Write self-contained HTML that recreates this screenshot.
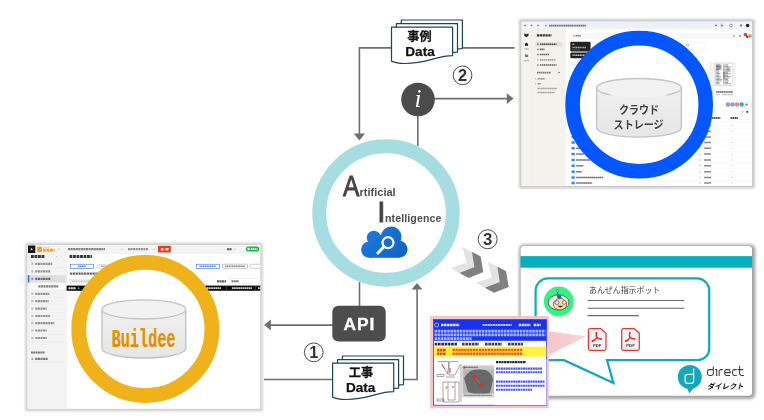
<!DOCTYPE html>
<html><head><meta charset="utf-8"><title>AI integration diagram</title>
<style>
html,body{margin:0;padding:0;background:#fff;}
body{width:764px;height:420px;overflow:hidden;font-family:"Liberation Sans",sans-serif;}
svg{display:block;will-change:transform;}
svg text{font-family:"Liberation Sans",sans-serif;}
svg text.cjk{font-family:"Liberation Sans","Noto Sans CJK JP",sans-serif;}
.serif{font-family:"Liberation Serif",serif;}
.mono{font-family:"Liberation Mono",monospace;}
svg text.mono{font-family:"Liberation Mono",monospace;}
</style></head><body>
<svg width="764" height="420" viewBox="0 0 764 420">
<defs>
<filter id="sh" x="-10%" y="-10%" width="120%" height="120%"><feGaussianBlur stdDeviation="1.4"/></filter>
<filter id="sh2" x="-10%" y="-10%" width="120%" height="120%"><feGaussianBlur stdDeviation="1"/></filter>
<filter id="soft" x="-5%" y="-5%" width="110%" height="110%"><feGaussianBlur stdDeviation="0.45"/></filter>
<linearGradient id="cyl" x1="0" y1="0" x2="0" y2="1"><stop offset="0" stop-color="#efefef"/><stop offset="1" stop-color="#e6e6e6"/></linearGradient>
<linearGradient id="fade" gradientUnits="userSpaceOnUse" x1="596.6" y1="0" x2="681.4" y2="0"><stop offset="0" stop-color="#c4c4c4"/><stop offset="0.13" stop-color="#c4c4c4"/><stop offset="0.2" stop-color="#c4c4c4" stop-opacity="0"/><stop offset="0.8" stop-color="#c4c4c4" stop-opacity="0"/><stop offset="0.87" stop-color="#c4c4c4"/><stop offset="1" stop-color="#c4c4c4"/></linearGradient>
<linearGradient id="pinkfade" gradientUnits="userSpaceOnUse" x1="548" y1="0" x2="587" y2="0"><stop offset="0" stop-color="#f4c5c7"/><stop offset="1" stop-color="#f8d6d8"/></linearGradient>
<linearGradient id="bld" x1="0" y1="0" x2="0" y2="1"><stop offset="0" stop-color="#e59a18"/><stop offset="1" stop-color="#d38612"/></linearGradient>
<linearGradient id="cloud" gradientUnits="userSpaceOnUse" x1="365" y1="228" x2="400" y2="260"><stop offset="0" stop-color="#1d7be0"/><stop offset="1" stop-color="#0f63c4"/></linearGradient>
<clipPath id="clipL"><rect x="27.5" y="245" width="232.8" height="163.8"/></clipPath>
<clipPath id="clipR"><rect x="521.5" y="21.7" width="230.5" height="164.1"/></clipPath>
</defs>
<rect width="764" height="420" fill="#fff"/>

<g id="connectors" fill="none" stroke="#6f6f6f" stroke-width="1.6">
<path d="M391.5 47.9H359.4V135"/>
<path d="M462.6 47.9H514.6"/>
<path d="M434 98.6H508"/>
<path d="M417.8 115V146"/>
<path d="M359.5 282V306"/>
<path d="M333 325.1H270"/>
<path d="M264 379.5H333"/>
<path d="M403.5 379.5H417.1V289"/>
</g>
<g id="arrowheads" fill="#6f6f6f">
<path d="M353.8 133.5H365L359.4 140.4Z"/>
<path d="M506.8 93.2V104L513.5 98.6Z"/>
<path d="M270.9 319.6V330.6L264.2 325.1Z"/>
<path d="M411.6 289.6H422.4L417 283Z"/>
</g>
<g id="doc-jirei" role="img" aria-label="事例 Data"><path d="M401.3 20.0H462.4V48.6C446.4 48.6 436.4 56.6 414.3 56.4Q406.3 56.2 401.3 54.0Z" fill="#fff" stroke="#1d4456" stroke-width="1.2" stroke-linejoin="round"/><path d="M396.4 23.6H457.5V52.2C441.5 52.2 431.5 60.2 409.4 60.0Q401.4 59.8 396.4 57.5Z" fill="#fff" stroke="#1d4456" stroke-width="1.2" stroke-linejoin="round"/><path d="M391.5 27.1H452.6V55.7C436.6 55.7 426.6 63.7 404.5 63.5Q396.5 63.3 391.5 61.1Z" fill="#fff" stroke="#1d4456" stroke-width="1.2" stroke-linejoin="round"/>
<text class="cjk" x="419.5" y="40.6" font-size="12" font-weight="bold" text-anchor="middle" textLength="24.3" lengthAdjust="spacingAndGlyphs" fill="#111" stroke="#111" stroke-width="0.25">事例</text>
<text x="420" y="55.6" font-size="12.9" font-weight="bold" text-anchor="middle" textLength="29.4" lengthAdjust="spacingAndGlyphs" fill="#111" stroke="#111" stroke-width="0.25">Data</text></g>
<g id="doc-kouji" role="img" aria-label="工事 Data"><path d="M342.4 356.0H403.5V384.6C387.5 384.6 377.5 392.6 355.4 392.4Q347.4 392.2 342.4 390.0Z" fill="#fff" stroke="#1d4456" stroke-width="1.2" stroke-linejoin="round"/><path d="M337.5 359.6H398.6V388.2C382.6 388.2 372.6 396.2 350.5 395.9Q342.5 395.8 337.5 393.6Z" fill="#fff" stroke="#1d4456" stroke-width="1.2" stroke-linejoin="round"/><path d="M332.6 363.1H393.7V391.7C377.7 391.7 367.7 399.7 345.6 399.5Q337.6 399.3 332.6 397.1Z" fill="#fff" stroke="#1d4456" stroke-width="1.2" stroke-linejoin="round"/>
<text class="cjk" x="361" y="376.8" font-size="12" font-weight="bold" text-anchor="middle" textLength="24.4" lengthAdjust="spacingAndGlyphs" fill="#111" stroke="#111" stroke-width="0.25">工事</text>
<text x="360.7" y="391.6" font-size="12.9" font-weight="bold" text-anchor="middle" textLength="29.4" lengthAdjust="spacingAndGlyphs" fill="#111" stroke="#111" stroke-width="0.25">Data</text></g>
<circle cx="313.75" cy="352.35" r="9.40" fill="#fff" stroke="#383838" stroke-width="0.9"/><text x="313.75" y="358.30" font-size="16.3" font-weight="bold" text-anchor="middle" fill="#333">1</text>
<circle cx="462.55" cy="75.35" r="9.35" fill="#fff" stroke="#383838" stroke-width="0.9"/><text x="462.55" y="80.80" font-size="16.3" font-weight="bold" text-anchor="middle" fill="#333">2</text>
<circle cx="487.65" cy="239.25" r="9.50" fill="#fff" stroke="#383838" stroke-width="0.9"/><text x="487.65" y="245.10" font-size="16.8" font-weight="bold" text-anchor="middle" fill="#333">3</text>
<g id="info"><circle cx="418" cy="99.5" r="16.8" fill="#4b4b4b"/>
<text class="serif" x="417.9" y="106.5" font-size="25" font-style="italic" text-anchor="middle" fill="#fff">i</text></g>
<g id="ai"><circle cx="386" cy="213" r="66.75" fill="#fff" stroke="#a6dde0" stroke-width="13.9"/>
<text transform="translate(343,195.6) scale(0.83,1)" font-size="29.6" fill="#454545" stroke="#454545" stroke-width="0.9">A</text>
<text x="359.6" y="195.6" font-size="11" font-weight="bold" fill="#4d4d4d">rtificial</text>
<text x="377.3" y="221.5" font-size="29.6" fill="#454545" stroke="#454545" stroke-width="0.9">I</text>
<text x="385" y="221.5" font-size="10.6" font-weight="bold" fill="#4d4d4d" textLength="56.4" lengthAdjust="spacing">ntelligence</text>
<g fill="url(#cloud)"><circle cx="369.3" cy="249.6" r="8.2"/><circle cx="399" cy="249.3" r="8.5"/><circle cx="373.8" cy="237.8" r="7.1"/><circle cx="381" cy="241" r="6"/><circle cx="391.2" cy="236.8" r="10.3"/><rect x="369" y="239" width="30" height="18.8"/></g>
<circle cx="388" cy="242.6" r="5.5" fill="none" stroke="#fff" stroke-width="2.2"/><path d="M383.8 247L377.9 253" stroke="#fff" stroke-width="3" stroke-linecap="round"/></g>
<g id="api"><rect x="332.3" y="305.7" width="53.4" height="35.7" rx="6" fill="#4d4d4d"/>
<text x="359" y="330" font-size="17.4" font-weight="bold" text-anchor="middle" fill="#fff" textLength="30.8" lengthAdjust="spacing" stroke="#fff" stroke-width="0.3">API</text></g>
<g id="chevrons"><polygon points="462.4,246.9 471.9,251.7 474.3,267.1 459.3,272.9 450.7,267.9 466.4,262.6" fill="#e3e3e3"/><polygon points="471.9,251.7 480.7,256.4 483.3,272.1 468.6,277.9 459.3,272.9 474.3,267.1" fill="#808080"/><polygon points="487.8,261.7 497.3,266.5 499.7,281.9 484.7,287.7 476.1,282.7 491.8,277.4" fill="#e3e3e3"/><polygon points="497.3,266.5 506.1,271.2 508.7,286.9 494.0,292.7 484.7,287.7 499.7,281.9" fill="#808080"/></g>
<g id="buildee-shot" role="img" aria-label="Buildee">
<rect x="25.1" y="242.7" width="237.7" height="168.6" rx="1.5" fill="#000" opacity="0.18" filter="url(#sh2)"/>
<rect x="27.50" y="245.00" width="232.80" height="163.80" fill="#fff" />
<g clip-path="url(#clipL)" filter="url(#soft)">
<rect x="27.50" y="245.00" width="234.00" height="8.30" fill="#f4f4f4" />
<rect x="27.50" y="253.20" width="234.00" height="0.40" fill="#e2e2e2" />
<rect x="27.50" y="253.40" width="38.90" height="155.10" fill="#f3f3f3" />
<rect x="28.00" y="245.50" width="7.30" height="7.50" fill="#161616" />
<path d="M30.8 247.8L33 249.2L30.8 250.6Z" fill="#ddd"/>
<rect x="37.20" y="246.80" width="4.80" height="5.20" fill="#f0a01e" rx="0.8"/>
<path d="M43.00 250.30H54.50" stroke="#f0a01e" stroke-width="3.00" stroke-dasharray="2.85 0.66" opacity="0.95" fill="none"/>
<path d="M43.00 247.60H50.00" stroke="#f0a01e" stroke-width="0.80" stroke-dasharray="1.00 0.30" opacity="0.60" fill="none"/>
<path d="M58.00 249.30H60.00" stroke="#bbb" stroke-width="1.20" stroke-dasharray="1.14 0.30" opacity="0.80" fill="none"/>
<path d="M31.00 256.50H45.00" stroke="#222" stroke-width="3.00" stroke-dasharray="2.85 0.66" opacity="0.90" fill="none"/>
<rect x="56.00" y="255.90" width="1.00" height="1.20" rx="0.4" fill="#bbb" opacity="0.80"/>
<rect x="31.30" y="262.80" width="2.00" height="2.20" rx="0.4" fill="#999" opacity="0.60"/>
<path d="M35.30 263.90H52.30" stroke="#666" stroke-width="2.20" stroke-dasharray="2.09 0.48" opacity="0.68" fill="none"/>
<rect x="27.50" y="267.50" width="38.90" height="0.30" fill="#e6e6e6" />
<rect x="31.30" y="270.20" width="2.00" height="2.20" rx="0.4" fill="#999" opacity="0.60"/>
<path d="M35.30 271.30H50.80" stroke="#666" stroke-width="2.20" stroke-dasharray="2.09 0.48" opacity="0.68" fill="none"/>
<rect x="27.50" y="274.90" width="38.90" height="0.30" fill="#e6e6e6" />
<rect x="27.50" y="275.20" width="38.90" height="7.50" fill="#dedede" />
<rect x="27.50" y="275.20" width="1.80" height="7.50" fill="#2f6fe0" />
<rect x="31.30" y="277.70" width="2.00" height="2.20" rx="0.4" fill="#2f6fe0" opacity="0.60"/>
<path d="M35.30 278.80H50.80" stroke="#333" stroke-width="2.20" stroke-dasharray="2.09 0.48" opacity="0.68" fill="none"/>
<rect x="27.50" y="282.40" width="38.90" height="0.30" fill="#e6e6e6" />
<rect x="29.00" y="282.90" width="37.40" height="7.10" fill="#fafafa" />
<path d="M38.30 286.30H58.30" stroke="#555" stroke-width="2.20" stroke-dasharray="2.09 0.48" opacity="0.75" fill="none"/>
<rect x="27.50" y="289.90" width="38.90" height="0.30" fill="#e6e6e6" />
<rect x="31.30" y="292.70" width="2.00" height="2.20" rx="0.4" fill="#999" opacity="0.60"/>
<path d="M35.30 293.80H49.30" stroke="#666" stroke-width="2.20" stroke-dasharray="2.09 0.48" opacity="0.68" fill="none"/>
<rect x="27.50" y="297.40" width="38.90" height="0.30" fill="#e6e6e6" />
<rect x="31.30" y="300.10" width="2.00" height="2.20" rx="0.4" fill="#999" opacity="0.60"/>
<path d="M35.30 301.20H48.80" stroke="#666" stroke-width="2.20" stroke-dasharray="2.09 0.48" opacity="0.68" fill="none"/>
<rect x="27.50" y="304.80" width="38.90" height="0.30" fill="#e6e6e6" />
<rect x="31.30" y="307.50" width="2.00" height="2.20" rx="0.4" fill="#999" opacity="0.60"/>
<path d="M35.30 308.60H46.80" stroke="#666" stroke-width="2.20" stroke-dasharray="2.09 0.48" opacity="0.68" fill="none"/>
<rect x="27.50" y="312.20" width="38.90" height="0.30" fill="#e6e6e6" />
<rect x="31.30" y="314.90" width="2.00" height="2.20" rx="0.4" fill="#999" opacity="0.60"/>
<path d="M35.30 316.00H49.80" stroke="#666" stroke-width="2.20" stroke-dasharray="2.09 0.48" opacity="0.68" fill="none"/>
<rect x="27.50" y="319.60" width="38.90" height="0.30" fill="#e6e6e6" />
<rect x="31.30" y="322.10" width="2.00" height="2.20" rx="0.4" fill="#999" opacity="0.60"/>
<path d="M35.30 323.20H54.30" stroke="#666" stroke-width="2.20" stroke-dasharray="2.09 0.48" opacity="0.68" fill="none"/>
<rect x="27.50" y="326.80" width="38.90" height="0.30" fill="#e6e6e6" />
<rect x="31.30" y="329.40" width="2.00" height="2.20" rx="0.4" fill="#999" opacity="0.60"/>
<path d="M35.30 330.50H46.80" stroke="#666" stroke-width="2.20" stroke-dasharray="2.09 0.48" opacity="0.68" fill="none"/>
<rect x="27.50" y="334.10" width="38.90" height="0.30" fill="#e6e6e6" />
<rect x="31.30" y="336.90" width="2.00" height="2.20" rx="0.4" fill="#999" opacity="0.60"/>
<path d="M35.30 338.00H46.80" stroke="#666" stroke-width="2.20" stroke-dasharray="2.09 0.48" opacity="0.68" fill="none"/>
<rect x="27.50" y="341.60" width="38.90" height="0.30" fill="#e6e6e6" />
<path d="M31.00 352.50H45.00" stroke="#555" stroke-width="2.00" stroke-dasharray="1.90 0.44" opacity="0.80" fill="none"/>
<rect x="31.30" y="357.70" width="2.00" height="2.20" rx="0.4" fill="#8a8a8a" opacity="0.70"/>
<path d="M35.30 358.80H48.00" stroke="#5a5a5a" stroke-width="2.20" stroke-dasharray="2.09 0.48" opacity="0.80" fill="none"/>
<rect x="27.50" y="362.60" width="38.90" height="0.30" fill="#e6e6e6" />
<rect x="66.30" y="253.40" width="0.30" height="155.10" fill="#e4e4e4" />
<path d="M68.00 249.20H105.00" stroke="#444" stroke-width="2.20" stroke-dasharray="2.09 0.48" opacity="0.65" fill="none"/>
<path d="M121.00 249.30H123.00" stroke="#bbb" stroke-width="1.20" stroke-dasharray="1.14 0.30" opacity="0.80" fill="none"/>
<path d="M128.00 249.20H148.00" stroke="#555" stroke-width="2.20" stroke-dasharray="2.09 0.48" opacity="0.60" fill="none"/>
<path d="M153.00 249.30H155.00" stroke="#bbb" stroke-width="1.20" stroke-dasharray="1.14 0.30" opacity="0.80" fill="none"/>
<rect x="158.00" y="245.80" width="12.80" height="6.70" fill="#e2401f" />
<circle cx="162.2" cy="249.2" r="1.5" fill="#fff" opacity="0.9"/>
<rect x="165.50" y="248.00" width="3.00" height="2.40" rx="0.4" fill="#fff" opacity="0.85"/>
<path d="M227.00 249.20H232.00" stroke="#333" stroke-width="2.00" stroke-dasharray="1.90 0.44" opacity="0.85" fill="none"/>
<path d="M234.00 249.30H236.50" stroke="#ccc" stroke-width="1.20" stroke-dasharray="1.14 0.30" opacity="0.80" fill="none"/>
<rect x="240.30" y="247.00" width="3.70" height="4.60" fill="#fff" stroke="#ddd" stroke-width="0.3"/>
<rect x="245.80" y="246.50" width="13.50" height="5.10" fill="#25b24a" rx="2.5"/>
<circle cx="248.6" cy="249.05" r="1.3" fill="#fff" opacity="0.9"/>
<path d="M251.00 249.10H257.50" stroke="#fff" stroke-width="1.60" stroke-dasharray="1.52 0.35" opacity="0.85" fill="none"/>
<path d="M69.50 256.50H92.00" stroke="#222" stroke-width="3.00" stroke-dasharray="2.85 0.66" opacity="0.90" fill="none"/>
<rect x="70.50" y="264.20" width="23.00" height="4.10" fill="#fff" stroke="#2f6fe0" stroke-width="0.6"/>
<path d="M78.00 266.30H86.00" stroke="#2f6fe0" stroke-width="1.60" stroke-dasharray="1.52 0.35" opacity="0.85" fill="none"/>
<rect x="97.50" y="264.20" width="18.50" height="4.10" fill="#eee" stroke="#ccc" stroke-width="0.4"/>
<path d="M101.00 266.30H112.00" stroke="#999" stroke-width="1.50" stroke-dasharray="1.42 0.33" opacity="0.70" fill="none"/>
<path d="M70.00 273.60H110.00" stroke="#444" stroke-width="2.40" stroke-dasharray="2.28 0.53" opacity="0.80" fill="none"/>
<rect x="70.00" y="279.00" width="55.00" height="4.60" fill="#f1f1f1" stroke="#ddd" stroke-width="0.3"/>
<path d="M72.00 281.30H92.00" stroke="#bbb" stroke-width="1.50" stroke-dasharray="1.42 0.33" opacity="0.70" fill="none"/>
<rect x="196.30" y="264.20" width="23.00" height="4.10" fill="#fff" stroke="#2f6fe0" stroke-width="0.6"/>
<path d="M199.50 266.30H216.00" stroke="#2f6fe0" stroke-width="1.50" stroke-dasharray="1.42 0.33" opacity="0.80" fill="none"/>
<rect x="222.50" y="264.20" width="25.00" height="4.10" fill="#fff" stroke="#888" stroke-width="0.5" rx="0.8"/>
<path d="M225.00 266.30H245.00" stroke="#666" stroke-width="1.50" stroke-dasharray="1.42 0.33" opacity="0.75" fill="none"/>
<rect x="250.00" y="264.20" width="13.00" height="4.10" fill="#fff" stroke="#999" stroke-width="0.5" rx="0.8"/>
<path d="M217.00 281.30H226.00" stroke="#333" stroke-width="2.20" stroke-dasharray="2.09 0.48" opacity="0.80" fill="none"/>
<rect x="229.50" y="278.80" width="33.50" height="5.00" fill="#fff" stroke="#ddd" stroke-width="0.4"/>
<path d="M231.50 281.30H239.00" stroke="#444" stroke-width="2.00" stroke-dasharray="1.90 0.44" opacity="0.75" fill="none"/>
<rect x="66.60" y="285.60" width="194.90" height="5.20" fill="#101010" />
<path d="M68.50 288.20H76.00" stroke="#fff" stroke-width="2.00" stroke-dasharray="1.90 0.44" opacity="0.85" fill="none"/>
<rect x="78.00" y="287.60" width="1.50" height="1.20" rx="0.4" fill="#fff" opacity="0.70"/>
<path d="M207.00 288.20H221.00" stroke="#fff" stroke-width="1.80" stroke-dasharray="1.71 0.40" opacity="0.80" fill="none"/>
<rect x="226.40" y="285.60" width="0.40" height="5.20" fill="#777" />
<path d="M232.00 288.20H252.00" stroke="#fff" stroke-width="1.80" stroke-dasharray="1.71 0.40" opacity="0.80" fill="none"/>
<rect x="255.40" y="285.60" width="0.40" height="5.20" fill="#777" />
<path d="M258.00 288.20H262.00" stroke="#fff" stroke-width="1.80" stroke-dasharray="1.71 0.40" opacity="0.80" fill="none"/>
</g>
<circle cx="145.3" cy="329" r="66.6" fill="#fff" stroke="#f0b21b" stroke-width="14.8"/>
<path d="M102 309.4V348.5A41.85 9.55 0 0 0 185.7 348.5V309.4" fill="url(#cyl)" stroke="#c4c4c4" stroke-width="1.4"/>
<ellipse cx="143.85" cy="309.4" rx="41.85" ry="9.55" fill="#f2f2f2" stroke="#c4c4c4" stroke-width="1.4"/>
<text class="mono" x="111.2" y="346.55" font-size="25" font-weight="bold" textLength="64" lengthAdjust="spacingAndGlyphs" fill="#f4c022">Buildee</text>
<text class="mono" x="111.7" y="347" font-size="25" font-weight="bold" textLength="64" lengthAdjust="spacingAndGlyphs" fill="url(#bld)">Buildee</text>
</g>
<g id="box-shot" role="img" aria-label="クラウドストレージ">
<rect x="518.9" y="19" width="236" height="169.4" rx="1.5" fill="#000" opacity="0.2" filter="url(#sh2)"/>
<rect x="521.50" y="21.70" width="230.50" height="164.10" fill="#fff" />
<g clip-path="url(#clipR)" filter="url(#soft)">
<rect x="521.50" y="21.00" width="231.00" height="8.00" fill="#f3f5f8" />
<rect x="521.50" y="28.80" width="231.00" height="0.40" fill="#e3e5e8" />
<rect x="524.10" y="24.80" width="1.80" height="1.40" rx="0.4" fill="#555" opacity="0.75"/>
<rect x="530.60" y="24.80" width="1.80" height="1.40" rx="0.4" fill="#555" opacity="0.75"/>
<rect x="537.10" y="24.80" width="1.80" height="1.40" rx="0.4" fill="#555" opacity="0.75"/>
<rect x="543.00" y="22.60" width="183.00" height="5.40" fill="#edf0f5" rx="2.7"/>
<rect x="545.30" y="24.70" width="1.40" height="1.60" rx="0.4" fill="#555" opacity="0.70"/>
<path d="M549.00 25.60H586.00" stroke="#444" stroke-width="1.60" stroke-dasharray="1.52 0.35" opacity="0.75" fill="none"/>
<rect x="715.00" y="24.70" width="2.00" height="1.60" rx="0.4" fill="#555" opacity="0.75"/>
<circle cx="721.8" cy="25.5" r="2.2" fill="#dfe3ea"/>
<rect x="721.00" y="24.75" width="1.60" height="1.50" rx="0.4" fill="#444" opacity="0.80"/>
<circle cx="731" cy="25.5" r="1.4" fill="none" stroke="#555" stroke-width="0.5"/>
<rect x="740.00" y="24.60" width="2.00" height="1.80" rx="0.4" fill="#444" opacity="0.75"/>
<circle cx="747.6" cy="25.5" r="1.8" fill="#222"/>
<rect x="521.50" y="29.20" width="9.90" height="157.10" fill="#f5f3ee" />
<rect x="531.40" y="29.20" width="33.90" height="157.10" fill="#f4f2ed" />
<rect x="531.30" y="29.20" width="0.30" height="157.10" fill="#e6e3dc" />
<rect x="565.20" y="29.20" width="0.30" height="157.10" fill="#e6e3dc" />
<path d="M524.3 33.3L526.4 34.6L528.5 33.3V35.8L526.4 37.2L524.3 35.8Z" fill="#222"/>
<path d="M524.9 45.8V43.9L526.5 42.6L528.1 43.9V45.8Z" fill="#222"/>
<path d="M524.50 49.00H528.60" stroke="#666" stroke-width="1.20" stroke-dasharray="1.14 0.30" opacity="0.70" fill="none"/>
<path d="M525 54.2H526.3L526.8 54.8H528.2V57H525Z" fill="#777"/>
<path d="M523.80 60.70H529.20" stroke="#888" stroke-width="1.20" stroke-dasharray="1.14 0.30" opacity="0.65" fill="none"/>
<path d="M537.00 35.40H551.50" stroke="#222" stroke-width="2.40" stroke-dasharray="2.28 0.53" opacity="0.90" fill="none"/>
<rect x="535.00" y="42.00" width="27.20" height="4.40" fill="#e4e1da" rx="1"/>
<rect x="537.20" y="43.45" width="1.40" height="1.60" rx="0.4" fill="#222" opacity="0.75"/>
<path d="M540.00 44.25H556.50" stroke="#222" stroke-width="1.70" stroke-dasharray="1.61 0.37" opacity="0.78" fill="none"/>
<rect x="537.20" y="48.50" width="1.40" height="1.60" rx="0.4" fill="#444" opacity="0.75"/>
<path d="M540.00 49.30H544.50" stroke="#444" stroke-width="1.70" stroke-dasharray="1.61 0.37" opacity="0.78" fill="none"/>
<rect x="537.20" y="53.70" width="1.40" height="1.60" rx="0.4" fill="#444" opacity="0.75"/>
<path d="M540.00 54.50H549.00" stroke="#444" stroke-width="1.70" stroke-dasharray="1.61 0.37" opacity="0.78" fill="none"/>
<rect x="537.20" y="59.00" width="1.40" height="1.60" rx="0.4" fill="#999" opacity="0.75"/>
<path d="M540.00 59.80H555.50" stroke="#999" stroke-width="1.70" stroke-dasharray="1.61 0.37" opacity="0.78" fill="none"/>
<rect x="537.20" y="64.20" width="1.40" height="1.60" rx="0.4" fill="#444" opacity="0.75"/>
<path d="M540.00 65.00H556.50" stroke="#444" stroke-width="1.70" stroke-dasharray="1.61 0.37" opacity="0.78" fill="none"/>
<path d="M537.00 72.60H551.00" stroke="#555" stroke-width="1.70" stroke-dasharray="1.61 0.37" opacity="0.75" fill="none"/>
<path d="M558.6 71.7L560 72.6L558.6 73.5Z" fill="#333"/>
<rect x="535.00" y="78.30" width="1.00" height="1.00" rx="0.4" fill="#777" opacity="0.70"/>
<path d="M537.50 78.80H545.00" stroke="#666" stroke-width="1.50" stroke-dasharray="1.42 0.33" opacity="0.70" fill="none"/>
<rect x="535.00" y="83.30" width="1.00" height="1.00" rx="0.4" fill="#777" opacity="0.70"/>
<path d="M537.50 83.80H541.00" stroke="#666" stroke-width="1.50" stroke-dasharray="1.42 0.33" opacity="0.70" fill="none"/>
<path d="M537.50 88.60H557.00" stroke="#777" stroke-width="1.50" stroke-dasharray="1.42 0.33" opacity="0.65" fill="none"/>
<path d="M537.50 92.40H555.00" stroke="#777" stroke-width="1.50" stroke-dasharray="1.42 0.33" opacity="0.65" fill="none"/>
<rect x="571.00" y="32.90" width="162.00" height="5.80" fill="#f8f8f7" rx="1"/>
<rect x="573.30" y="35.05" width="1.20" height="1.50" rx="0.4" fill="#666" opacity="0.70"/>
<path d="M575.50 35.80H581.00" stroke="#555" stroke-width="1.60" stroke-dasharray="1.52 0.35" opacity="0.75" fill="none"/>
<rect x="733.30" y="35.10" width="1.70" height="1.80" rx="0.4" fill="#888" opacity="0.70"/>
<rect x="739.00" y="35.10" width="2.00" height="1.80" rx="0.4" fill="#666" opacity="0.70"/>
<circle cx="745.4" cy="34.6" r="1.9" fill="#e8406a"/><circle cx="750" cy="36" r="1.8" fill="#f08a20"/><circle cx="747.2" cy="36.8" r="1.2" fill="#7a2a3a"/>
<rect x="570.30" y="41.70" width="20.30" height="9.80" fill="#242424" rx="1.3"/>
<rect x="572.50" y="43.50" width="1.80" height="1.60" rx="0.4" fill="#ddd" opacity="0.80"/>
<path d="M572.50 47.60H586.00" stroke="#ccc" stroke-width="1.50" stroke-dasharray="1.42 0.33" opacity="0.75" fill="none"/>
<path d="M572.50 49.90H580.00" stroke="#aaa" stroke-width="0.80" stroke-dasharray="1.00 0.30" opacity="0.50" fill="none"/>
<rect x="570.30" y="52.40" width="18.20" height="5.80" fill="#242424" rx="1.3"/>
<path d="M572.50 55.20H585.00" stroke="#ddd" stroke-width="1.50" stroke-dasharray="1.42 0.33" opacity="0.80" fill="none"/>
<rect x="571.00" y="61.50" width="29.00" height="4.50" fill="#f5f3ee" />
<rect x="683.00" y="42.00" width="21.30" height="10.00" fill="#fff" stroke="#e8e8e8" stroke-width="0.5" rx="1"/>
<circle cx="687.6" cy="45" r="1.1" fill="none" stroke="#666" stroke-width="0.4"/>
<rect x="709.00" y="61.80" width="26.70" height="25.40" fill="#f3f3f3" rx="1"/>
<rect x="714.30" y="63.70" width="17.90" height="21.50" fill="#fcfcfc" stroke="#c8c8c8" stroke-width="0.3"/>
<path d="M715.60 65.00H719.97" stroke="#222" stroke-width="0.90" stroke-dasharray="1.00 0.30" opacity="0.60" fill="none"/>
<path d="M723.20 65.00H728.23" stroke="#222" stroke-width="0.90" stroke-dasharray="1.00 0.30" opacity="0.60" fill="none"/>
<path d="M715.60 66.45H720.86" stroke="#222" stroke-width="0.90" stroke-dasharray="1.00 0.30" opacity="0.60" fill="none"/>
<path d="M723.20 66.45H727.95" stroke="#222" stroke-width="0.90" stroke-dasharray="1.00 0.30" opacity="0.60" fill="none"/>
<path d="M715.60 67.90H720.55" stroke="#222" stroke-width="0.90" stroke-dasharray="1.00 0.30" opacity="0.60" fill="none"/>
<path d="M723.20 67.90H728.98" stroke="#222" stroke-width="0.90" stroke-dasharray="1.00 0.30" opacity="0.60" fill="none"/>
<path d="M715.60 69.35H719.26" stroke="#222" stroke-width="0.90" stroke-dasharray="1.00 0.30" opacity="0.60" fill="none"/>
<path d="M723.20 69.35H729.48" stroke="#222" stroke-width="0.90" stroke-dasharray="1.00 0.30" opacity="0.60" fill="none"/>
<path d="M715.60 70.80H719.20" stroke="#222" stroke-width="0.90" stroke-dasharray="1.00 0.30" opacity="0.60" fill="none"/>
<path d="M723.20 70.80H729.22" stroke="#222" stroke-width="0.90" stroke-dasharray="1.00 0.30" opacity="0.60" fill="none"/>
<path d="M715.60 72.25H719.29" stroke="#222" stroke-width="0.90" stroke-dasharray="1.00 0.30" opacity="0.60" fill="none"/>
<path d="M723.20 72.25H728.02" stroke="#222" stroke-width="0.90" stroke-dasharray="1.00 0.30" opacity="0.60" fill="none"/>
<path d="M715.60 73.70H720.25" stroke="#222" stroke-width="0.90" stroke-dasharray="1.00 0.30" opacity="0.60" fill="none"/>
<path d="M723.20 73.70H730.59" stroke="#222" stroke-width="0.90" stroke-dasharray="1.00 0.30" opacity="0.60" fill="none"/>
<path d="M715.60 75.15H719.43" stroke="#222" stroke-width="0.90" stroke-dasharray="1.00 0.30" opacity="0.60" fill="none"/>
<path d="M723.20 75.15H728.48" stroke="#222" stroke-width="0.90" stroke-dasharray="1.00 0.30" opacity="0.60" fill="none"/>
<path d="M715.60 76.60H720.79" stroke="#222" stroke-width="0.90" stroke-dasharray="1.00 0.30" opacity="0.60" fill="none"/>
<path d="M723.20 76.60H731.02" stroke="#222" stroke-width="0.90" stroke-dasharray="1.00 0.30" opacity="0.60" fill="none"/>
<path d="M715.60 78.05H720.66" stroke="#222" stroke-width="0.90" stroke-dasharray="1.00 0.30" opacity="0.60" fill="none"/>
<path d="M723.20 78.05H729.09" stroke="#222" stroke-width="0.90" stroke-dasharray="1.00 0.30" opacity="0.60" fill="none"/>
<path d="M715.60 79.50H721.74" stroke="#222" stroke-width="0.90" stroke-dasharray="1.00 0.30" opacity="0.60" fill="none"/>
<path d="M723.20 79.50H727.86" stroke="#222" stroke-width="0.90" stroke-dasharray="1.00 0.30" opacity="0.60" fill="none"/>
<path d="M715.60 80.95H721.42" stroke="#222" stroke-width="0.90" stroke-dasharray="1.00 0.30" opacity="0.60" fill="none"/>
<path d="M723.20 80.95H728.71" stroke="#222" stroke-width="0.90" stroke-dasharray="1.00 0.30" opacity="0.60" fill="none"/>
<path d="M715.60 82.40H719.49" stroke="#222" stroke-width="0.90" stroke-dasharray="1.00 0.30" opacity="0.60" fill="none"/>
<path d="M723.20 82.40H728.11" stroke="#222" stroke-width="0.90" stroke-dasharray="1.00 0.30" opacity="0.60" fill="none"/>
<path d="M715.60 83.85H719.93" stroke="#222" stroke-width="0.90" stroke-dasharray="1.00 0.30" opacity="0.60" fill="none"/>
<path d="M723.20 83.85H730.56" stroke="#222" stroke-width="0.90" stroke-dasharray="1.00 0.30" opacity="0.60" fill="none"/>
<rect x="716.00" y="64.60" width="5.60" height="5.20" fill="#555" opacity="0.45"/>
<rect x="723.20" y="71.50" width="2.20" height="7.50" fill="#444" opacity="0.35"/>
<rect x="727.50" y="66.00" width="3.30" height="6.00" fill="#666" opacity="0.3"/>
<path d="M716.00 92.00H733.00" stroke="#333" stroke-width="1.60" stroke-dasharray="1.52 0.35" opacity="0.80" fill="none"/>
<path d="M716.00 94.70H720.50" stroke="#888" stroke-width="1.20" stroke-dasharray="1.14 0.30" opacity="0.60" fill="none"/>
<path d="M722.00 94.70H733.00" stroke="#888" stroke-width="1.20" stroke-dasharray="1.14 0.30" opacity="0.60" fill="none"/>
<circle cx="711.6" cy="93" r="1.2" fill="#4aa0f0" opacity="0.8"/>
<circle cx="728.0" cy="104.5" r="2.3" fill="#a293dc"/>
<circle cx="732.5" cy="104.5" r="2.3" fill="#8e9fe3"/>
<circle cx="737.0" cy="104.5" r="2.3" fill="#f1828d"/>
<circle cx="741.7" cy="104.5" r="2.3" fill="#2ab3c6"/>
<rect x="745.30" y="103.60" width="2.50" height="2.00" rx="0.4" fill="#555" opacity="0.70"/>
<rect x="741.60" y="111.00" width="1.80" height="1.60" rx="0.4" fill="#999" opacity="0.70"/>
<rect x="746.30" y="110.90" width="1.90" height="1.80" rx="0.4" fill="#222" opacity="0.85"/>
<path d="M711.70 118.00H720.50" stroke="#333" stroke-width="1.80" stroke-dasharray="1.71 0.40" opacity="0.80" fill="none"/>
<path d="M730.50 118.00H738.00" stroke="#333" stroke-width="1.80" stroke-dasharray="1.71 0.40" opacity="0.85" fill="none"/>
<rect x="565.50" y="121.80" width="187.00" height="0.30" fill="#dcdcdc" />
<circle cx="700" cy="125.50" r="0.9" fill="none" stroke="#aaa" stroke-width="0.3"/>
<path d="M704.30 125.50H711.00" stroke="#444" stroke-width="1.70" stroke-dasharray="1.61 0.37" opacity="0.78" fill="none"/>
<path d="M731.30 125.50H732.50" stroke="#555" stroke-width="0.60" stroke-dasharray="1.00 0.30" opacity="0.70" fill="none"/>
<rect x="565.50" y="128.30" width="187.00" height="0.25" fill="#e9e9e9" />
<rect x="571.50" y="124.15" width="3.30" height="2.70" fill="#3b84f2" rx="0.5"/>
<path d="M576.20 125.50H596.20" stroke="#333" stroke-width="1.70" stroke-dasharray="1.61 0.37" opacity="0.78" fill="none"/>
<circle cx="700" cy="131.25" r="0.9" fill="none" stroke="#aaa" stroke-width="0.3"/>
<path d="M704.30 131.25H711.00" stroke="#444" stroke-width="1.70" stroke-dasharray="1.61 0.37" opacity="0.78" fill="none"/>
<path d="M731.30 131.25H732.50" stroke="#555" stroke-width="0.60" stroke-dasharray="1.00 0.30" opacity="0.70" fill="none"/>
<rect x="565.50" y="134.05" width="187.00" height="0.25" fill="#e9e9e9" />
<rect x="571.50" y="129.90" width="3.30" height="2.70" fill="#3b84f2" rx="0.5"/>
<path d="M576.20 131.25H590.20" stroke="#333" stroke-width="1.70" stroke-dasharray="1.61 0.37" opacity="0.78" fill="none"/>
<circle cx="700" cy="137.00" r="0.9" fill="none" stroke="#aaa" stroke-width="0.3"/>
<path d="M704.30 137.00H711.00" stroke="#444" stroke-width="1.70" stroke-dasharray="1.61 0.37" opacity="0.78" fill="none"/>
<path d="M731.30 137.00H732.50" stroke="#555" stroke-width="0.60" stroke-dasharray="1.00 0.30" opacity="0.70" fill="none"/>
<rect x="565.50" y="139.80" width="187.00" height="0.25" fill="#e9e9e9" />
<rect x="571.50" y="135.65" width="3.30" height="2.70" fill="#3b84f2" rx="0.5"/>
<path d="M576.20 137.00H598.20" stroke="#333" stroke-width="1.70" stroke-dasharray="1.61 0.37" opacity="0.78" fill="none"/>
<circle cx="700" cy="142.50" r="0.9" fill="none" stroke="#aaa" stroke-width="0.3"/>
<path d="M704.30 142.50H711.00" stroke="#444" stroke-width="1.70" stroke-dasharray="1.61 0.37" opacity="0.78" fill="none"/>
<path d="M731.30 142.50H732.50" stroke="#555" stroke-width="0.60" stroke-dasharray="1.00 0.30" opacity="0.70" fill="none"/>
<rect x="565.50" y="145.30" width="187.00" height="0.25" fill="#e9e9e9" />
<rect x="571.50" y="141.15" width="3.30" height="2.70" fill="#3b84f2" rx="0.5"/>
<path d="M576.20 142.50H594.20" stroke="#333" stroke-width="1.70" stroke-dasharray="1.61 0.37" opacity="0.78" fill="none"/>
<circle cx="700" cy="148.25" r="0.9" fill="none" stroke="#aaa" stroke-width="0.3"/>
<path d="M704.30 148.25H711.00" stroke="#444" stroke-width="1.70" stroke-dasharray="1.61 0.37" opacity="0.78" fill="none"/>
<path d="M731.30 148.25H732.50" stroke="#555" stroke-width="0.60" stroke-dasharray="1.00 0.30" opacity="0.70" fill="none"/>
<rect x="565.50" y="151.05" width="187.00" height="0.25" fill="#e9e9e9" />
<rect x="571.50" y="146.90" width="3.30" height="2.70" fill="#3b84f2" rx="0.5"/>
<path d="M576.20 148.25H586.20" stroke="#333" stroke-width="1.70" stroke-dasharray="1.61 0.37" opacity="0.78" fill="none"/>
<circle cx="700" cy="154.00" r="0.9" fill="none" stroke="#aaa" stroke-width="0.3"/>
<path d="M704.30 154.00H711.00" stroke="#444" stroke-width="1.70" stroke-dasharray="1.61 0.37" opacity="0.78" fill="none"/>
<path d="M731.30 154.00H732.50" stroke="#555" stroke-width="0.60" stroke-dasharray="1.00 0.30" opacity="0.70" fill="none"/>
<rect x="565.50" y="156.80" width="187.00" height="0.25" fill="#e9e9e9" />
<rect x="571.50" y="152.65" width="3.30" height="2.70" fill="#3b84f2" rx="0.5"/>
<path d="M576.20 154.00H584.20" stroke="#333" stroke-width="1.70" stroke-dasharray="1.61 0.37" opacity="0.78" fill="none"/>
<circle cx="700" cy="160.00" r="0.9" fill="none" stroke="#aaa" stroke-width="0.3"/>
<path d="M704.30 160.00H711.00" stroke="#444" stroke-width="1.70" stroke-dasharray="1.61 0.37" opacity="0.78" fill="none"/>
<path d="M731.30 160.00H732.50" stroke="#555" stroke-width="0.60" stroke-dasharray="1.00 0.30" opacity="0.70" fill="none"/>
<rect x="565.50" y="162.80" width="187.00" height="0.25" fill="#e9e9e9" />
<rect x="571.50" y="158.65" width="3.30" height="2.70" fill="#3b84f2" rx="0.5"/>
<path d="M576.20 160.00H590.20" stroke="#333" stroke-width="1.70" stroke-dasharray="1.61 0.37" opacity="0.78" fill="none"/>
<circle cx="700" cy="165.75" r="0.9" fill="none" stroke="#aaa" stroke-width="0.3"/>
<path d="M704.30 165.75H711.00" stroke="#444" stroke-width="1.70" stroke-dasharray="1.61 0.37" opacity="0.78" fill="none"/>
<path d="M731.30 165.75H732.50" stroke="#555" stroke-width="0.60" stroke-dasharray="1.00 0.30" opacity="0.70" fill="none"/>
<rect x="565.50" y="168.55" width="187.00" height="0.25" fill="#e9e9e9" />
<rect x="571.50" y="164.40" width="3.30" height="2.70" fill="#3b84f2" rx="0.5"/>
<path d="M576.20 165.75H583.20" stroke="#333" stroke-width="1.70" stroke-dasharray="1.61 0.37" opacity="0.78" fill="none"/>
<circle cx="700" cy="171.75" r="0.9" fill="none" stroke="#aaa" stroke-width="0.3"/>
<path d="M704.30 171.75H711.00" stroke="#444" stroke-width="1.70" stroke-dasharray="1.61 0.37" opacity="0.78" fill="none"/>
<path d="M731.30 171.75H732.50" stroke="#555" stroke-width="0.60" stroke-dasharray="1.00 0.30" opacity="0.70" fill="none"/>
<rect x="565.50" y="174.55" width="187.00" height="0.25" fill="#e9e9e9" />
<rect x="571.50" y="170.40" width="3.30" height="2.70" fill="#3b84f2" rx="0.5"/>
<path d="M576.20 171.75H581.70" stroke="#333" stroke-width="1.70" stroke-dasharray="1.61 0.37" opacity="0.78" fill="none"/>
<circle cx="700" cy="177.50" r="0.9" fill="none" stroke="#aaa" stroke-width="0.3"/>
<path d="M704.30 177.50H711.00" stroke="#444" stroke-width="1.70" stroke-dasharray="1.61 0.37" opacity="0.78" fill="none"/>
<path d="M731.30 177.50H732.50" stroke="#555" stroke-width="0.60" stroke-dasharray="1.00 0.30" opacity="0.70" fill="none"/>
<rect x="565.50" y="180.30" width="187.00" height="0.25" fill="#e9e9e9" />
<rect x="571.50" y="176.15" width="3.30" height="2.70" fill="#3b84f2" rx="0.5"/>
<path d="M576.20 177.50H603.20" stroke="#333" stroke-width="1.70" stroke-dasharray="1.61 0.37" opacity="0.78" fill="none"/>
<circle cx="700" cy="183.00" r="0.9" fill="none" stroke="#aaa" stroke-width="0.3"/>
<path d="M704.30 183.00H711.00" stroke="#444" stroke-width="1.70" stroke-dasharray="1.61 0.37" opacity="0.78" fill="none"/>
<path d="M731.30 183.00H732.50" stroke="#555" stroke-width="0.60" stroke-dasharray="1.00 0.30" opacity="0.70" fill="none"/>
<rect x="565.50" y="185.80" width="187.00" height="0.25" fill="#e9e9e9" />
<rect x="571.50" y="181.65" width="3.30" height="2.70" fill="#3b84f2" rx="0.5"/>
<path d="M576.20 183.00H592.20" stroke="#333" stroke-width="1.70" stroke-dasharray="1.61 0.37" opacity="0.78" fill="none"/>
</g>
<circle cx="639.15" cy="104.7" r="66.55" fill="#fff" stroke="#0457fe" stroke-width="14.6"/>
<path d="M596.6 87.9V127.7A42.4 9.4 0 0 0 681.4 127.7V87.9" fill="url(#cyl)" stroke="#c4c4c4" stroke-width="1.4"/>
<ellipse cx="639" cy="87.9" rx="42.4" ry="9.4" fill="#f2f2f2"/>
<path d="M596.6 87.9A42.4 9.4 0 0 1 681.4 87.9" fill="none" stroke="#c4c4c4" stroke-width="1.4"/>
<path d="M596.6 87.9A42.4 9.4 0 0 0 681.4 87.9" fill="none" stroke="url(#fade)" stroke-width="1.4"/>
<text class="cjk" x="639" y="113.8" font-size="11" font-weight="bold" text-anchor="middle" textLength="40" lengthAdjust="spacingAndGlyphs" fill="#404040">クラウド</text>
<text class="cjk" x="638.6" y="129.3" font-size="11" font-weight="bold" text-anchor="middle" textLength="50" lengthAdjust="spacingAndGlyphs" fill="#404040">ストレージ</text>
</g>
<g id="direct-panel" role="img" aria-label="あんぜん指示ボット direct ダイレクト">
<rect x="519" y="244.4" width="236.3" height="154.6" rx="5" fill="#000" opacity="0.36" filter="url(#sh)"/>
<rect x="520.7" y="246" width="231.3" height="149.7" rx="3.5" fill="#fff"/>
<rect x="520.40" y="256.10" width="231.60" height="11.60" fill="#07aec0" />
<path d="M564 360.2H548.1A12.5 12.5 0 0 1 535.6 347.7V290.8A12.5 12.5 0 0 1 548.1 278.3H696.7A12.5 12.5 0 0 1 709.2 290.8V348.7A11.5 11.5 0 0 1 697.7 360.2H607L613.5 383.1Z" fill="#fff" stroke="#0ea9bb" stroke-width="2.2" stroke-linejoin="miter"/>
<circle cx="558.8" cy="301.5" r="14.9" fill="#34f480"/>
<path d="M557.9 295.2L557.6 291.6" stroke="#333" stroke-width="0.8"/><circle cx="557.6" cy="290.8" r="1.1" fill="#fff" stroke="#333" stroke-width="0.5"/>
<ellipse cx="558.5" cy="302.4" rx="10.4" ry="7.6" fill="#f4f4f4" stroke="#333" stroke-width="0.7"/>
<path d="M556.5 295.3L560.8 295.1L561.6 298.4L558 298.8Z" fill="#2a5fd0"/>
<ellipse cx="560" cy="304.2" rx="6.6" ry="5.8" fill="#f6e0a2" stroke="#333" stroke-width="0.6"/>
<circle cx="557" cy="302.5" r="2" fill="#fbf3d8" stroke="#333" stroke-width="0.6"/><circle cx="564.2" cy="302.5" r="1.9" fill="#fbf3d8" stroke="#333" stroke-width="0.6"/>
<path d="M557.6 305.8Q560.4 309 563.2 305.8Z" fill="#6a1a10"/>
<text class="cjk" x="589" y="293.4" font-size="8" textLength="71.2" lengthAdjust="spacingAndGlyphs" fill="#404040">あんぜん指示ボット</text>
<g stroke="#6a6a6a" stroke-width="1.1"><path d="M587.5 300.5H684.5M587.5 308.3H684.5M587.5 315.6H638.8"/></g>
<g transform="translate(588.0,328.2)"><path d="M2.2 0.3H12.6L18 5V20.4A1.8 1.8 0 0 1 16.2 22.2H2.2A1.8 1.8 0 0 1 0.4 20.4V2.1A1.8 1.8 0 0 1 2.2 0.3Z" fill="#f4f4f8" stroke="#e8382e" stroke-width="1.25" stroke-linejoin="round"/><path d="M8.5 4.6C7.7 6.2 8.3 8 8.8 9.4C7.6 11.2 6 12.6 4.3 13M8.8 9.4C10.2 10.4 11.8 10.7 13.3 10.6" fill="none" stroke="#ea2a1e" stroke-width="1.35" stroke-linecap="round"/><circle cx="8.5" cy="4.7" r="0.9" fill="#ea2a1e"/><circle cx="4.5" cy="12.9" r="0.95" fill="#ea2a1e"/><circle cx="13.1" cy="10.6" r="0.9" fill="#ea2a1e"/><text x="9.2" y="18.8" font-size="4.3" font-weight="bold" text-anchor="middle" fill="#444">PDF</text></g>
<g transform="translate(621.3,328.2)"><path d="M2.2 0.3H12.6L18 5V20.4A1.8 1.8 0 0 1 16.2 22.2H2.2A1.8 1.8 0 0 1 0.4 20.4V2.1A1.8 1.8 0 0 1 2.2 0.3Z" fill="#f4f4f8" stroke="#e8382e" stroke-width="1.25" stroke-linejoin="round"/><path d="M8.5 4.6C7.7 6.2 8.3 8 8.8 9.4C7.6 11.2 6 12.6 4.3 13M8.8 9.4C10.2 10.4 11.8 10.7 13.3 10.6" fill="none" stroke="#ea2a1e" stroke-width="1.35" stroke-linecap="round"/><circle cx="8.5" cy="4.7" r="0.9" fill="#ea2a1e"/><circle cx="4.5" cy="12.9" r="0.95" fill="#ea2a1e"/><circle cx="13.1" cy="10.6" r="0.9" fill="#ea2a1e"/><text x="9.2" y="18.8" font-size="4.3" font-weight="bold" text-anchor="middle" fill="#444">PDF</text></g>
<circle cx="689.8" cy="377" r="12" fill="#14a6b9"/><path d="M686.3 386.6L689.4 393.2L693.6 388.2Z" fill="#14a6b9"/>
<path d="M693.6 368.6V380.9A2.4 2.4 0 0 1 691.2 383.3H687.6A2.4 2.4 0 0 1 685.2 380.9V376.8A2.4 2.4 0 0 1 687.6 374.4H693.6" fill="none" stroke="#fff" stroke-width="1.3"/>
<g fill="none" stroke="#3c3c3c" stroke-width="1.05" stroke-linecap="butt">
<path d="M713.3 366.4V373.6A1.9 1.9 0 0 1 711.4 375.5H709.4A1.9 1.9 0 0 1 707.5 373.6V371.5A1.9 1.9 0 0 1 709.4 369.6H713.3"/>
<path d="M715.3 369.6H716.7V376"/>
<path d="M719.1 376V371.5A1.9 1.9 0 0 1 721 369.6H722.8"/>
<path d="M724.7 372.6H730.1V371.5A1.9 1.9 0 0 0 728.2 369.6H726.6A1.9 1.9 0 0 0 724.7 371.5V373.6A1.9 1.9 0 0 0 726.6 375.5H730"/>
<path d="M736.8 369.6H734.5A1.9 1.9 0 0 0 732.6 371.5V373.6A1.9 1.9 0 0 0 734.5 375.5H736.8"/>
<path d="M737.6 369.6H743.3M739.6 365.8V373.6A1.9 1.9 0 0 0 741.5 375.5H743.9"/>
</g>
<text class="cjk" x="707" y="389.1" font-size="7.4" font-weight="bold" font-style="italic" textLength="36.5" lengthAdjust="spacingAndGlyphs" fill="#111">ダイレクト</text>
</g>
<g id="incident">
<path d="M548.8 331.3L586.4 336.4L548.8 355.1Z" fill="url(#pinkfade)"/>
<rect x="430.10" y="316.00" width="118.70" height="92.20" fill="#f5c6c8" />
<rect x="433.60" y="319.60" width="113.00" height="85.60" fill="#fff" stroke="#2222ee" stroke-width="0.7"/>
<g filter="url(#soft)">
<rect x="433.90" y="319.90" width="112.40" height="20.90" fill="#1a36ee" />
<rect x="433.90" y="319.90" width="112.40" height="8.70" fill="#1230f0" />
<circle cx="436.7" cy="325" r="2" fill="none" stroke="#fff" stroke-width="0.6"/>
<path d="M441.00 325.00H459.50" stroke="#fff" stroke-width="2.60" stroke-dasharray="2.47 0.57" opacity="0.90" fill="none"/>
<path d="M482.60 325.00H511.70" stroke="#fff" stroke-width="2.20" stroke-dasharray="2.09 0.48" opacity="0.75" fill="none"/>
<path d="M518.70 325.00H530.50" stroke="#fff" stroke-width="2.40" stroke-dasharray="2.28 0.53" opacity="0.85" fill="none"/>
<path d="M533.70 325.00H540.70" stroke="#fff" stroke-width="2.60" stroke-dasharray="2.47 0.57" opacity="0.90" fill="none"/>
<path d="M434.60 331.20H545.50" stroke="#fff" stroke-width="2.70" stroke-dasharray="2.56 0.59" opacity="0.62" fill="none"/>
<path d="M434.60 334.90H545.50" stroke="#fff" stroke-width="2.70" stroke-dasharray="2.56 0.59" opacity="0.62" fill="none"/>
<path d="M434.60 338.60H471.60" stroke="#fff" stroke-width="2.70" stroke-dasharray="2.56 0.59" opacity="0.62" fill="none"/>
<path d="M434.70 344.20H457.00" stroke="#111" stroke-width="2.80" stroke-dasharray="2.66 0.62" opacity="0.85" fill="none"/>
<path d="M462.00 344.20H479.00" stroke="#111" stroke-width="2.80" stroke-dasharray="2.66 0.62" opacity="0.78" fill="none"/>
<path d="M485.00 344.20H502.00" stroke="#111" stroke-width="2.80" stroke-dasharray="2.66 0.62" opacity="0.78" fill="none"/>
<path d="M508.00 344.20H523.00" stroke="#111" stroke-width="2.80" stroke-dasharray="2.66 0.62" opacity="0.78" fill="none"/>
<rect x="433.90" y="346.70" width="112.40" height="9.90" fill="#fff23e" />
<rect x="449.00" y="346.70" width="0.40" height="9.90" fill="#c9b040" />
<path d="M437.00 350.10H445.70" stroke="#e8200c" stroke-width="2.60" stroke-dasharray="2.47 0.57" opacity="0.85" fill="none"/>
<path d="M452.50 350.10H522.50" stroke="#e8200c" stroke-width="2.50" stroke-dasharray="2.38 0.55" opacity="0.72" fill="none"/>
<path d="M437.00 353.80H445.70" stroke="#e8200c" stroke-width="2.60" stroke-dasharray="2.47 0.57" opacity="0.85" fill="none"/>
<path d="M452.50 353.80H522.50" stroke="#e8200c" stroke-width="2.50" stroke-dasharray="2.38 0.55" opacity="0.72" fill="none"/>
<g fill="none" stroke="#444" stroke-width="0.55" opacity="0.85"><path d="M438 361.5H458M442 364L447.5 374L449 362V375H455L460 365M446 377H455M443 382H459V402H443ZM448 382V400H455V382M437 374.5H444V376.5H437ZM437 399H444V401H437ZM461 364V402"/></g>
<path d="M441.5 364.5L445 369M450 368V373" stroke="#e03020" stroke-width="0.9" fill="none"/><circle cx="446.5" cy="387.5" r="1" fill="#e08020"/><circle cx="453" cy="387" r="1" fill="#e08020"/>
<rect x="462.50" y="365.60" width="31.50" height="31.60" fill="#b9b9b9" />
<path d="M464 378Q470 368 480 369Q492 370 493 380L490 393Q478 396 468 392Z" fill="#5e5e5e" opacity="0.9"/>
<rect x="462.50" y="365.60" width="31.50" height="3.90" fill="#cfcfcf" opacity="0.8"/>
<rect x="462.50" y="393.60" width="31.50" height="3.60" fill="#d8d8d8" opacity="0.9"/>
<path d="M464.00 367.40H478.00" stroke="#333" stroke-width="1.40" stroke-dasharray="1.33 0.31" opacity="0.60" fill="none"/>
<path d="M464.00 395.40H492.00" stroke="#333" stroke-width="1.40" stroke-dasharray="1.33 0.31" opacity="0.50" fill="none"/>
<circle cx="474.6" cy="377" r="1.9" fill="#ff1a10"/><circle cx="481" cy="384.6" r="1.9" fill="#ff1a10"/><path d="M474.6 377L481 384.6" stroke="#ff5a20" stroke-width="0.7"/>
<rect x="463.30" y="366.60" width="2.00" height="1.80" fill="#e02020" />
<rect x="494.20" y="359.50" width="52.10" height="45.50" fill="#fff" stroke="#ddd" stroke-width="0.3"/>
<path d="M496.00 362.20H526.00" stroke="#111" stroke-width="2.30" stroke-dasharray="2.18 0.51" opacity="0.90" fill="none"/>
<path d="M496.00 368.60H542.00" stroke="#1a22f4" stroke-width="2.10" stroke-dasharray="1.99 0.46" opacity="0.78" fill="none"/>
<path d="M496.00 372.30H542.00" stroke="#1a22f4" stroke-width="2.10" stroke-dasharray="1.99 0.46" opacity="0.78" fill="none"/>
<path d="M496.00 381.60H545.00" stroke="#1a22f4" stroke-width="2.10" stroke-dasharray="1.99 0.46" opacity="0.78" fill="none"/>
<path d="M496.00 385.70H545.00" stroke="#1a22f4" stroke-width="2.10" stroke-dasharray="1.99 0.46" opacity="0.78" fill="none"/>
<path d="M496.00 389.80H532.00" stroke="#1a22f4" stroke-width="2.10" stroke-dasharray="1.99 0.46" opacity="0.78" fill="none"/>
</g></g>
</svg></body></html>
